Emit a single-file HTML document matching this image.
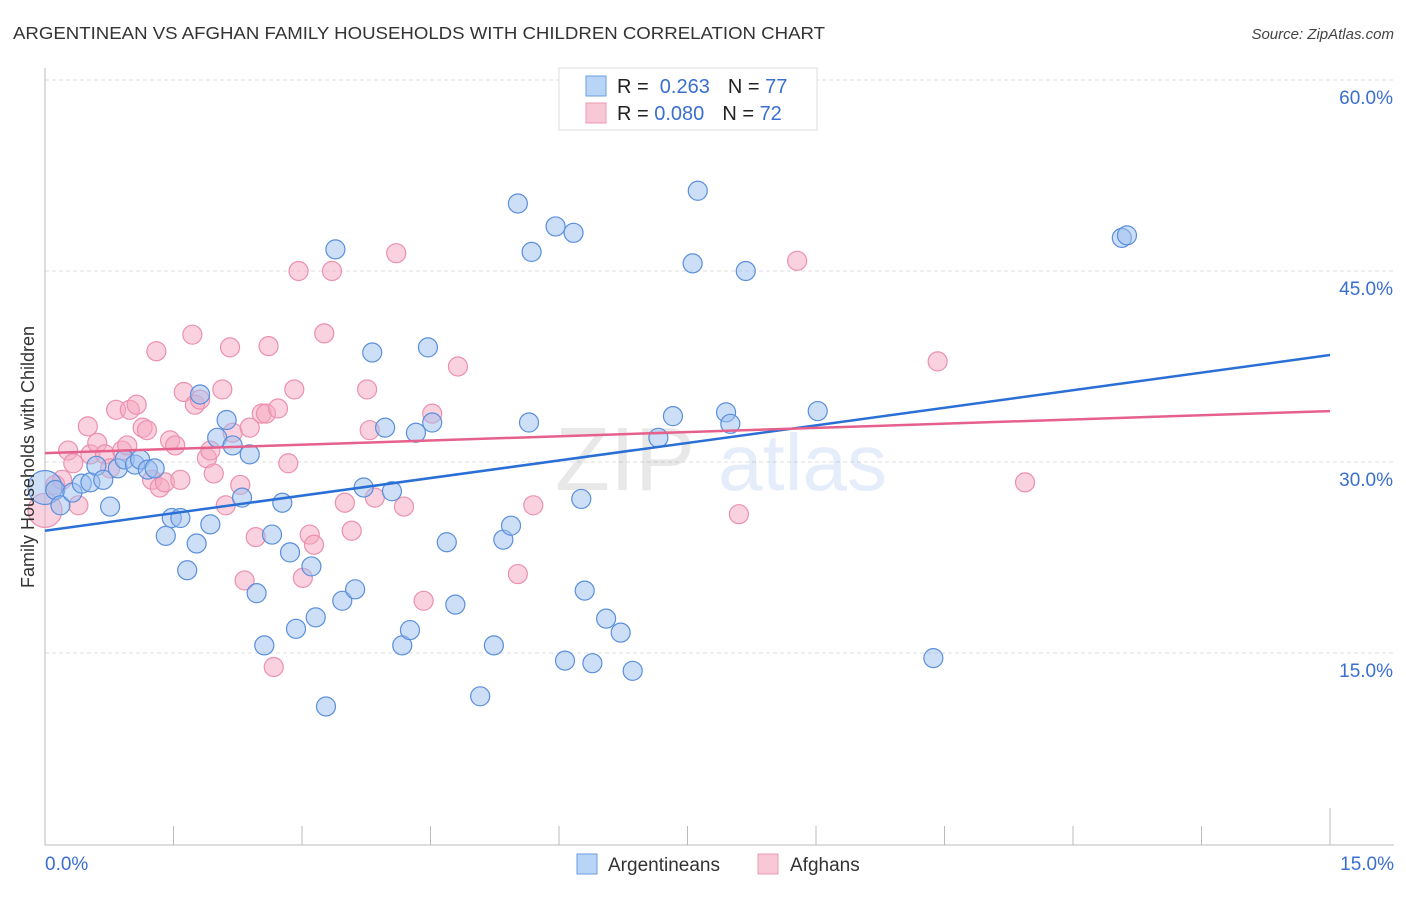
<!DOCTYPE html>
<html><head><meta charset="utf-8"><style>
body{margin:0;background:#fff;font-family:"Liberation Sans",sans-serif;}
svg text{font-family:"Liberation Sans",sans-serif;}
</style></head><body>
<svg id="chart" width="1406" height="892" xmlns="http://www.w3.org/2000/svg">
<text x="13" y="39" font-size="17.5" fill="#333" textLength="812" lengthAdjust="spacingAndGlyphs">ARGENTINEAN VS AFGHAN FAMILY HOUSEHOLDS WITH CHILDREN CORRELATION CHART</text>
<text x="1394" y="39" font-size="15" fill="#444" text-anchor="end" font-style="italic">Source: ZipAtlas.com</text>
<g id="grid"></g>
<g opacity="0.13"><text x="555" y="490" font-size="90" fill="#555" font-family="Liberation Serif">ZIP</text><text x="718" y="490" font-size="80" fill="#3a78d8">atlas</text></g>
<g id="axes"></g>
<g id="pts"></g>
<g id="lines"></g>
<text transform="translate(34,457) rotate(-90)" font-size="18" fill="#333" text-anchor="middle">Family Households with Children</text>
<g>
<rect x="559" y="68" width="258" height="62" fill="#fff" stroke="#ddd"/>
<rect x="586" y="76" width="20" height="20" fill="#b8d4f6" stroke="#6a9ee0"/>
<rect x="586" y="103" width="20" height="20" fill="#f9c8d6" stroke="#ec9ab4"/>
<text x="617" y="93" font-size="20" fill="#222">R = <tspan fill="#3a6fd0">&#160;0.263</tspan><tspan dx="18">N = </tspan><tspan fill="#3a6fd0">77</tspan></text>
<text x="617" y="120" font-size="20" fill="#222">R = <tspan fill="#3a6fd0">0.080</tspan><tspan dx="18">N = </tspan><tspan fill="#3a6fd0">72</tspan></text>
</g>
<g>
<rect x="577" y="854" width="20" height="20" fill="#b8d4f6" stroke="#6a9ee0"/>
<text x="608" y="871" font-size="19" fill="#333">Argentineans</text>
<rect x="758" y="854" width="20" height="20" fill="#f9c8d6" stroke="#ec9ab4"/>
<text x="790" y="871" font-size="19" fill="#333">Afghans</text>
</g>
</svg>
<script>
const yTicks=[15,30,45,60];
const yTickLabels=["15.0%","30.0%","45.0%","60.0%"];
const blueX=[0,.12,.18,.32,.43,.53,.60,.68,.76,.85,.93,1.05,1.11,1.20,1.28,1.41,1.48,1.58,1.66,1.77,1.81,1.93,2.01,2.12,2.19,2.30,2.39,2.47,2.56,2.65,2.77,2.86,2.93,3.11,3.16,3.28,3.39,3.47,3.62,3.72,3.82,3.97,4.05,4.17,4.26,4.33,4.47,4.52,4.69,4.79,5.08,5.24,5.35,5.44,5.52,5.65,5.68,5.96,6.07,6.17,6.26,6.30,6.39,6.55,6.72,6.86,7.16,7.33,7.56,7.62,7.95,8.00,8.18,9.02,10.37,12.57,12.63];
const blueY=[28.0,27.8,26.6,27.6,28.3,28.4,29.7,28.6,26.5,29.5,30.2,29.8,30.2,29.4,29.5,24.2,25.6,25.6,21.5,23.6,35.3,25.1,31.9,33.3,31.3,27.2,30.6,19.7,15.6,24.3,26.8,22.9,16.9,21.8,17.8,10.8,46.7,19.1,20.0,28.0,38.6,32.7,27.7,15.6,16.8,32.3,39.0,33.1,23.7,18.8,11.6,15.6,23.9,25.0,50.3,33.1,46.5,48.5,14.4,48.0,27.1,19.9,14.2,17.7,16.6,13.6,31.9,33.6,45.6,51.3,33.9,33.0,45.0,34.0,14.6,47.6,47.8];
const pinkX=[0,.12,.20,.27,.33,.39,.50,.53,.61,.70,.76,.83,.90,.96,.99,1.07,1.14,1.19,1.25,1.30,1.34,1.40,1.46,1.52,1.58,1.62,1.72,1.75,1.81,1.89,1.93,1.97,2.07,2.11,2.16,2.19,2.28,2.33,2.39,2.46,2.53,2.58,2.61,2.67,2.72,2.84,2.91,2.96,3.01,3.09,3.14,3.26,3.35,3.50,3.58,3.76,3.79,3.85,4.10,4.19,4.42,4.52,4.82,5.52,5.70,8.10,8.78,10.42,11.44];
const pinkY=[26.2,28.2,28.6,30.9,29.9,26.6,32.8,30.6,31.5,30.6,29.5,34.1,30.9,31.3,34.1,34.5,32.7,32.5,28.6,38.7,28.0,28.4,31.7,31.3,28.6,35.5,40.0,34.5,34.9,30.3,30.9,29.1,35.7,26.6,39.0,32.3,28.2,20.7,32.7,24.1,33.8,33.8,39.1,13.9,34.2,29.9,35.7,45.0,20.9,24.3,23.5,40.1,45.0,26.8,24.6,35.7,32.5,27.2,46.4,26.5,19.1,33.8,37.5,21.2,26.6,25.9,45.8,37.9,28.4];
const blueTrend=[24.6,38.4];
const pinkTrend=[30.7,34.0];
const NS="http://www.w3.org/2000/svg";
const X0=45,X1=1330,Y0=844,PPY=191/15;
const xs=v=>X0+(v/15)*(X1-X0);
const ys=v=>Y0-v*PPY;
function mk(t,a,p){const e=document.createElementNS(NS,t);for(const k in a)e.setAttribute(k,a[k]);p.appendChild(e);return e;}
const grid=document.getElementById('grid'),axes=document.getElementById('axes'),pts=document.getElementById('pts'),lines=document.getElementById('lines');
yTicks.forEach((t,i)=>{
 const l=mk('line',{x1:X0,x2:1394,y1:ys(t),y2:ys(t),stroke:'#ddd','stroke-dasharray':'4,3'},grid);
 
 
 const tx=mk('text',{x:1393,y:ys(t)+24,'font-size':19,fill:'#3a6fd0','text-anchor':'end'},axes);
 tx.textContent=yTickLabels[i];
 
 
});
mk('line',{x1:X0,x2:X0,y1:68,y2:845,stroke:'#bbb'},axes);
mk('line',{x1:X0,x2:1394,y1:845,y2:845,stroke:'#bbb'},axes);
for(let i=1;i<=10;i++){const x=xs(i*1.5);mk('line',{x1:x,x2:x,y1:i==10?808:826,y2:845,stroke:'#bbb'},axes);}
const xl0=mk('text',{x:45,y:870,'font-size':19,fill:'#3a6fd0'},axes);xl0.textContent='0.0%';


const xl1=mk('text',{x:1394,y:870,'font-size':19,fill:'#3a6fd0','text-anchor':'end'},axes);xl1.textContent='15.0%';


function dots(X,Y,fill,stroke,name){X.forEach((x,i)=>{const r=(x===0)?17:9.5;
 const c=mk('circle',{cx:xs(x),cy:ys(Y[i]),r:r,fill:fill,stroke:stroke,'stroke-width':1.2},pts);
 
 });}
dots(pinkX,pinkY,'rgba(245,165,192,0.5)','#eb90ae','afghan-point');
dots(blueX,blueY,'rgba(155,192,240,0.5)','#5a8fdc','argentinean-point');
const bl=mk('line',{x1:xs(0),y1:ys(blueTrend[0]),x2:xs(15),y2:ys(blueTrend[1]),stroke:'#2a6fd6','stroke-width':2.5},lines);


const pl=mk('line',{x1:xs(0),y1:ys(pinkTrend[0]),x2:xs(15),y2:ys(pinkTrend[1]),stroke:'#e6608c','stroke-width':2.5},lines);


</script>
</body></html>
